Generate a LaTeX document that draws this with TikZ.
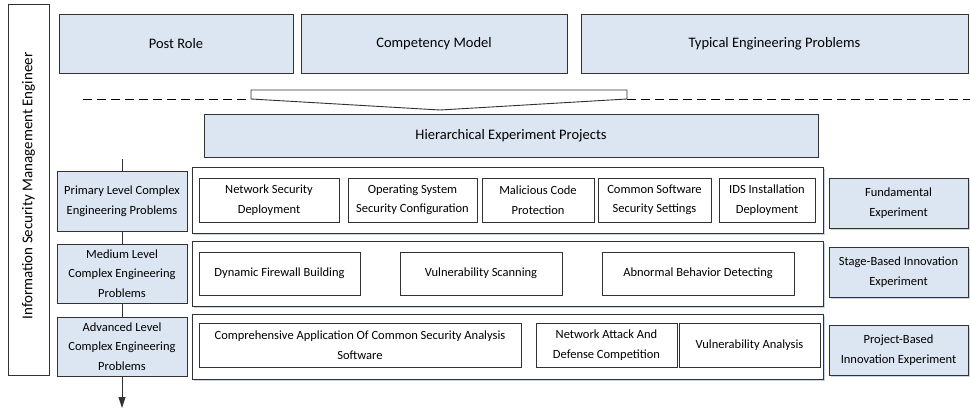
\documentclass[tikz,border=0pt]{standalone}
\usepackage{fontspec}
\setmainfont{Carlito}
\usetikzlibrary{arrows.meta,shadows}
\definecolor{boxblue}{RGB}{220,230,242}
\definecolor{edge}{RGB}{50,50,50}
\definecolor{shadowblue}{RGB}{175,195,225}
\newcommand\mybox[7]{\node[#6, minimum width={#4-#2}, minimum height={#5-#3}] (#1) at ({(#2+#4)/2},{(#3+#5)/2}) {#7};}
\begin{document}
\begin{tikzpicture}[x=1pt,y=-1pt,
  base/.style={draw=edge, line width=0.9pt, inner sep=0pt, align=center},
  bigblue/.style={base, fill=boxblue, font=\fontsize{14.5}{18}\selectfont},
  smallblue/.style={base, fill=boxblue, font=\fontsize{12.5}{19.5}\selectfont},
  rightblue/.style={smallblue, drop shadow={shadow xshift=1.5pt, shadow yshift=-1.5pt, fill=shadowblue, opacity=0.7}},
  rowbox/.style={base, fill=white, drop shadow={shadow xshift=1.8pt, shadow yshift=-1.8pt, fill=shadowblue, opacity=0.7}},
  inbox/.style={base, fill=white, font=\fontsize{12.5}{19.5}\selectfont},
  sidebox/.style={base, fill=white},
  dashline/.style={draw=black, line width=0.9pt, dash pattern=on 9pt off 5pt},
  flow/.style={draw=edge, line width=0.9pt}]
\useasboundingbox (0,0) rectangle (970,409);

% left vertical box
\mybox{eng}{8}{4}{49}{375}{sidebox}{}
\node[rotate=90, font=\fontsize{15}{18}\selectfont] (engtxt) at (28.5,186) {Information Security Management Engineer};

% top row
\mybox{post}{59}{14}{293}{73}{bigblue}{Post Role}
\mybox{comp}{301}{14}{567}{73}{bigblue}{Competency Model}
\mybox{typ}{581}{14}{968}{73}{bigblue}{Typical Engineering Problems}

% dashed line and wide arrow
\coordinate (dl1) at (83,99);
\coordinate (dl2) at (251,99);
\coordinate (dr1) at (627,99);
\coordinate (dr2) at (970,99);
\draw[dashline] (dl1) -- (dl2);
\draw[dashline] (dr1) -- (dr2);
\draw[draw=edge, line width=0.9pt, fill=white] (251,90) -- (627,90) -- (dr1) -- (440,110) -- (dl2) -- cycle;

\mybox{hier}{204}{114}{818}{157}{bigblue}{Hierarchical Experiment Projects}

% rows
\mybox{row1}{192}{167}{823}{233}{rowbox}{}
\mybox{row2}{192}{241}{823}{306}{rowbox}{}
\mybox{row3}{192}{314}{823}{379}{rowbox}{}

% left levels
\mybox{prim}{57}{171}{187}{231}{smallblue}{Primary Level Complex\\Engineering Problems}
\mybox{med}{57}{244}{187}{303}{smallblue}{Medium Level\\Complex Engineering\\Problems}
\mybox{adv}{57}{317}{187}{376}{smallblue}{Advanced Level\\Complex Engineering\\Problems}

% right experiment types
\mybox{fund}{829}{178}{968}{228}{rightblue}{Fundamental\\Experiment}
\mybox{stage}{829}{247}{968}{297}{rightblue}{Stage-Based Innovation\\Experiment}
\mybox{proj}{829}{325}{968}{375}{rightblue}{Project-Based\\Innovation Experiment}

% row 1 items
\mybox{a1}{199}{178}{339}{222}{inbox}{Network Security\\Deployment}
\mybox{a2}{348}{178}{477}{222}{inbox}{Operating System\\Security Configuration}
\mybox{a3}{482}{178}{594}{222}{inbox}{Malicious Code\\Protection}
\mybox{a4}{598}{178}{711}{222}{inbox}{Common Software\\Security Settings}
\mybox{a5}{719}{178}{815}{222}{inbox}{IDS Installation\\Deployment}

% row 2 items
\mybox{b1}{199}{252}{360}{295}{inbox}{Dynamic Firewall Building}
\mybox{b2}{400}{252}{562}{295}{inbox}{Vulnerability Scanning}
\mybox{b3}{602}{252}{794}{295}{inbox}{Abnormal Behavior Detecting}

% row 3 items
\mybox{c1}{199}{323}{521}{367}{inbox}{Comprehensive Application Of Common Security Analysis\\Software}
\mybox{c2}{536}{323}{677}{367}{inbox}{Network Attack And\\Defense Competition}
\mybox{c3}{679}{323}{820}{367}{inbox}{Vulnerability Analysis}

% vertical flow
\coordinate (vtop) at (122,159);
\coordinate (vend) at (122,408);
\draw[flow] (vtop) -- (prim);
\draw[flow] (prim) -- (med);
\draw[flow] (med) -- (adv);
\draw[flow, -{Triangle[width=7pt,length=11pt]}] (adv) -- (vend);
\end{tikzpicture}
\end{document}
